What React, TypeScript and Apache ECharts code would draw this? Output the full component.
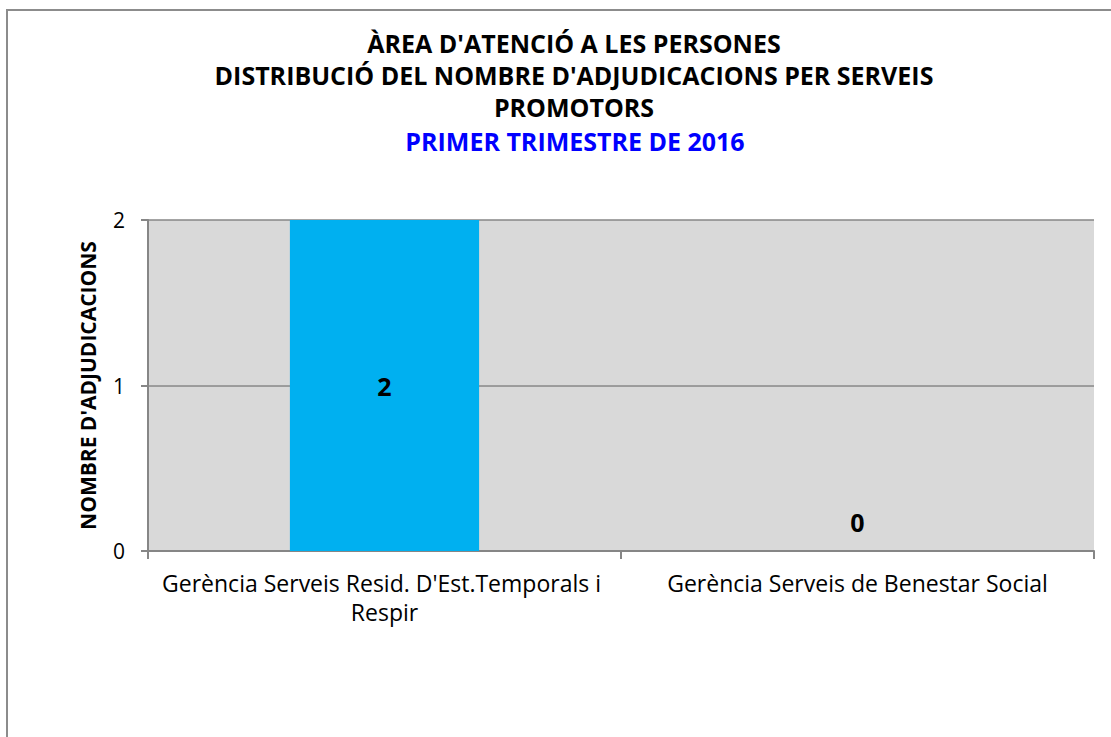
import React, { useEffect, useRef } from "react";
import * as echarts from "echarts";

const categories = [
  "Gerència Serveis Resid. D'Est.Temporals i Respir",
  "Gerència Serveis de Benestar Social",
];
const values = [2, 0];
const yTicks = [0, 1, 2];
const titleLines = [
  "ÀREA D'ATENCIÓ A LES PERSONES",
  "DISTRIBUCIÓ DEL NOMBRE D'ADJUDICACIONS PER SERVEIS",
  "PROMOTORS",
];
const subtitleLine = "PRIMER TRIMESTRE DE 2016";
const yAxisName = "NOMBRE D'ADJUDICACIONS";

const FONT = "'Open Sans', sans-serif";

export default function App() {
  const ref = useRef<HTMLDivElement>(null);
  useEffect(() => {
    document.body.style.margin = "0";
    const chart = echarts.init(ref.current!, null, { renderer: "svg" });
    const titleY = [43, 75, 107];
    chart.setOption({
      animation: false,
      backgroundColor: "#ffffff",
      textStyle: { fontFamily: FONT },
      graphic: [
        {
          type: "rect",
          shape: { x: 7, y: 10, width: 1200, height: 800 },
          style: { fill: "none", stroke: "#8c8c8c", lineWidth: 2 },
          silent: true,
        },
        ...titleLines.map((l, i) => ({
          type: "text",
          x: 574,
          y: titleY[i],
          style: {
            text: l,
            align: "center",
            verticalAlign: "middle",
            fontFamily: FONT,
            fontWeight: "bold",
            fontSize: 25,
            fill: "#000000",
          },
          silent: true,
        })),
        {
          type: "text",
          x: 575,
          y: 141,
          style: {
            text: subtitleLine,
            align: "center",
            verticalAlign: "middle",
            fontFamily: FONT,
            fontWeight: "bold",
            fontSize: 25,
            fill: "#0000ff",
          },
          silent: true,
        },
      ],
      grid: { left: 148, right: 17, top: 220, bottom: 186, containLabel: false },
      xAxis: {
        type: "category",
        data: categories,
        axisLine: { show: true, lineStyle: { color: "#868686", width: 2 } },
        axisTick: { show: true, length: 8, lineStyle: { color: "#868686", width: 2 } },
        axisLabel: {
          fontFamily: FONT,
          fontSize: 23,
          color: "#000000",
          margin: 17,
          width: 460,
          overflow: "break",
          lineHeight: 29,
          interval: 0,
        },
      },
      yAxis: {
        type: "value",
        min: 0,
        max: 2,
        interval: 1,
        name: yAxisName,
        nameLocation: "middle",
        nameGap: 50,
        nameTextStyle: { fontFamily: FONT, fontWeight: "bold", fontSize: 21, color: "#000000" },
        axisLine: { show: true, lineStyle: { color: "#868686", width: 2 } },
        axisTick: { show: true, length: 7, lineStyle: { color: "#868686", width: 2 } },
        splitLine: { show: true, lineStyle: { color: "#868686", width: 1.5 } },
        splitArea: { show: true, areaStyle: { color: ["#d9d9d9", "#d9d9d9"] } },
        axisLabel: {
          fontFamily: FONT,
          fontSize: 21,
          color: "#000000",
          margin: 23,
          formatter: (v: number) => (yTicks.includes(v) ? String(v) : ""),
        },
      },
      series: [
        {
          type: "bar",
          barWidth: "40%",
          data: values.map((v) => ({
            value: v,
            label:
              v === 0
                ? { show: true, position: "top", distance: 17 }
                : { show: true, position: "inside" },
          })),
          itemStyle: { color: "#00b0f0" },
          label: {
            fontFamily: FONT,
            fontWeight: "bold",
            fontSize: 25,
            color: "#000000",
          },
        },
      ],
    });
    return () => chart.dispose();
  }, []);
  return <div ref={ref} style={{ width: 1111, height: 737 }} />;
}
